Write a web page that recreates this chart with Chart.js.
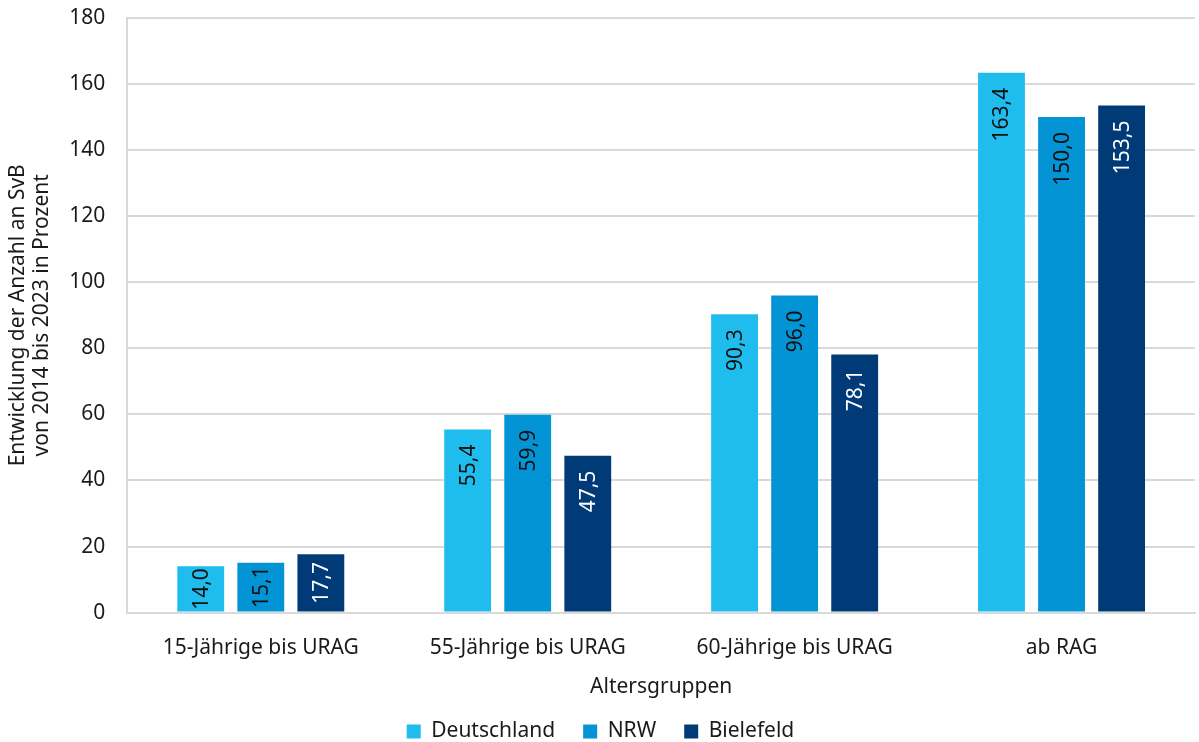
<!DOCTYPE html>
<html>
<head>
<meta charset="utf-8">
<script src="https://cdn.jsdelivr.net/npm/chart.js@4"></script>
<style>
  html, body { margin: 0; padding: 0; background: #ffffff; }
  #wrap { width: 1199px; height: 742px; }
</style>
</head>
<body>
<div id="wrap"><canvas id="chart"></canvas></div>
<script>
"use strict";

var categories = ["15-Jährige bis URAG", "55-Jährige bis URAG", "60-Jährige bis URAG", "ab RAG"];
var deutschland = [14.0, 55.4, 90.3, 163.4];
var nrw = [15.1, 59.9, 96.0, 150.0];
var bielefeld = [17.7, 47.5, 78.1, 153.5];

var fontName = "'Noto Sans', sans-serif";
var fontSize = 21;
Chart.defaults.font.family = fontName;
Chart.defaults.color = "#1a1a1a";

// draws the rotated value labels inside the bars
var barLabels = {
	id: "barLabels",
	afterDatasetsDraw: function (chart) {
		var ctx = chart.ctx;
		ctx.save();
		ctx.font = fontSize + "px " + fontName;
		chart.data.datasets.forEach(function (ds, i) {
			var meta = chart.getDatasetMeta(i);
			meta.data.forEach(function (bar, j) {
				var txt = ds.data[j].toFixed(1).replace(".", ",");
				var w = ctx.measureText(txt).width;
				var top = bar.y;
				var base = bar.base;
				var endY = top + 15;
				if (endY + w > base - 2) {
					endY = (top + base) / 2 - w / 2;
				}
				ctx.save();
				ctx.translate(bar.x, endY);
				ctx.rotate(-Math.PI / 2);
				ctx.fillStyle = ds.labelColor;
				ctx.textAlign = "right";
				ctx.textBaseline = "middle";
				ctx.fillText(txt, 0, 1);
				ctx.restore();
			});
		});
		ctx.restore();
	}
};

var data = {
	labels: categories,
	datasets: [
		{ label: "Deutschland", data: deutschland, backgroundColor: "#1fbcee", labelColor: "#111111" },
		{ label: "NRW", data: nrw, backgroundColor: "#0394d6", labelColor: "#111111" },
		{ label: "Bielefeld", data: bielefeld, backgroundColor: "#003b78", labelColor: "#ffffff" }
	]
};

var config = {
	type: "bar",
	data: data,
	plugins: [barLabels],
	options: {
		responsive: true,
		maintainAspectRatio: false,
		animation: false,
		datasets: {
			bar: { barPercentage: 0.78, categoryPercentage: 0.675 }
		},
		layout: { padding: { top: 18, right: 4, left: 6, bottom: -10 } },
		plugins: {
			legend: {
				position: "bottom",
				labels: {
					boxWidth: 14,
					boxHeight: 14,
					padding: 28,
					font: { size: fontSize },
					color: "#1a1a1a"
				}
			},
			tooltip: { enabled: false }
		},
		scales: {
			x: {
				grid: { display: false, drawTicks: false },
				border: { color: "#d9d9d9", width: 2 },
				ticks: { font: { size: fontSize }, padding: 23, color: "#1a1a1a" },
				title: {
					display: true,
					text: "Altersgruppen",
					font: { size: fontSize },
					color: "#1a1a1a",
					padding: { top: -9, bottom: -7 }
				}
			},
			y: {
				min: 0,
				max: 180,
				afterFit: function (scale) {
					scale.paddingTop = 0;
					scale.paddingBottom = 0;
				},
				ticks: { stepSize: 20, font: { size: fontSize }, padding: 22, color: "#1a1a1a" },
				grid: { color: "#d9d9d9", lineWidth: 2, drawTicks: false },
				border: { color: "#d9d9d9", width: 2 },
				title: {
					display: true,
					text: ["Entwicklung der Anzahl an SvB", "von 2014 bis 2023 in Prozent"],
					font: { size: fontSize, lineHeight: 1.15 },
					color: "#1a1a1a",
					padding: { top: 0, bottom: -7 }
				}
			}
		}
	}
};

new Chart(document.getElementById("chart").getContext("2d"), config);
</script>
</body>
</html>
